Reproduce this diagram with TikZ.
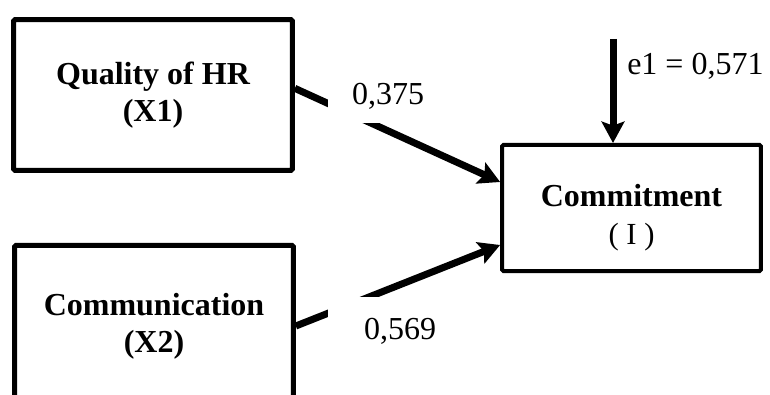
\documentclass[tikz,border=0pt]{standalone}
\usepackage{fontspec}
\setmainfont{Liberation Serif}
\usepackage{tikz}
\usetikzlibrary{positioning,shapes,arrows.meta}

\begin{document}
\begin{tikzpicture}[x=0.75pt, y=-0.75pt,
    >={Stealth[length=16pt, width=17pt, inset=3pt]},
    bb/.style={%
      rectangle, draw=black, line width=3.75pt, fill=white, rounded corners=1pt,
      minimum width=209pt, minimum height=113pt, align=center,
      font=\fontsize{24pt}{28pt}\selectfont\bfseries
    },
    lbl/.style={%
      rectangle, draw=none, fill=white, inner sep=0pt,
      minimum width=90pt, minimum height=40pt,
      font=\fontsize{24pt}{28pt}\selectfont
    },
    pth/.style={->, line width=5.25pt}
]
    \clip (0,0) rectangle (770,395);

    \node[bb] (x1) at (153,95)   {Quality of HR\\(X1)};
    \node[bb, minimum height=121pt] (x2) at (154,326) {Communication\\(X2)};
    \node[bb, line width=3pt, minimum width=194pt, minimum height=94.5pt]
      (com) at (631.5,208)
      {\rule{0pt}{31pt}Commitment\\{\normalfont\fontsize{23pt}{28pt}\selectfont( I )}};

    \coordinate (e1) at (613,39);

    \draw[pth] ([yshift=5pt]x1.east) -- ([yshift=19.5pt]com.west);
    \draw[pth] (x2.east) -- ([yshift=-27.75pt]com.west);
    \draw[pth] (e1) -- (e1 |- com.north);

    \node[lbl] (b1) at (388,96)  {0,375};
    \node[lbl, minimum width=108pt, minimum height=51pt] (b2) at (400,331) {0,569};
    \node[lbl, minimum width=0pt, minimum height=0pt, anchor=base west] (b3) at (627,75) {e1 = 0,571};

\end{tikzpicture}
\end{document}
